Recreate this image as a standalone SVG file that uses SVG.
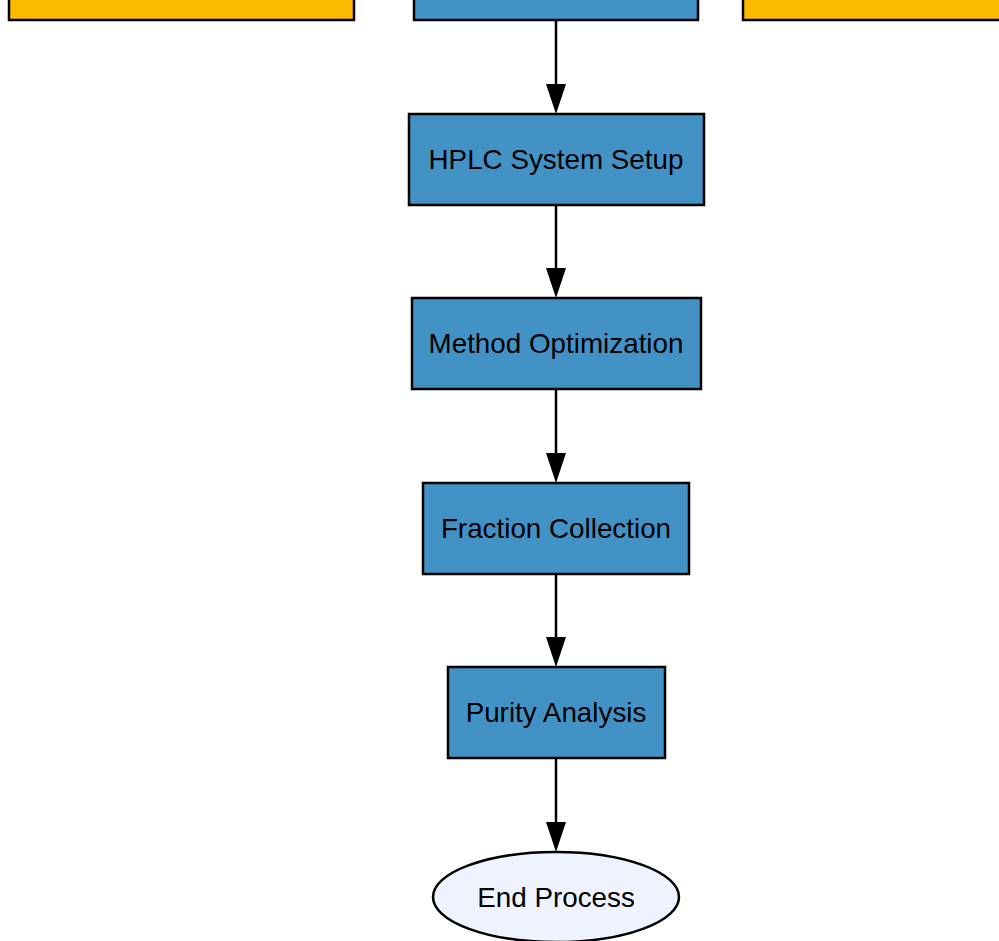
<svg xmlns="http://www.w3.org/2000/svg" width="999" height="941" viewBox="0 0 999 941">
<defs>
<style>
.box{fill:#4292c6;stroke:#000;stroke-width:2.5}
.top{fill:#fbba00;stroke:#000;stroke-width:2.5}
.end{fill:#eef3ff;stroke:#000;stroke-width:2.5}
.lbl{font-family:"Liberation Sans",Arial,sans-serif;font-size:27.8px;fill:#000;text-anchor:middle}
.edge{stroke:#000;stroke-width:2.5;fill:none}
</style>
</defs>
<rect width="999" height="941" fill="#fff"/>
<g id="top-left"><rect class="top" x="9" y="-20" width="345" height="40"/></g>
<g id="top-center"><rect class="box" x="414" y="-20" width="284" height="40"/></g>
<g id="top-right"><rect class="top" x="743" y="-20" width="270" height="40"/></g>
<g id="connectors">
<line class="edge" x1="556" y1="20" x2="556" y2="84"/>
<path d="M546,84 L566,84 L556,114 Z"/>
<line class="edge" x1="556" y1="205" x2="556" y2="268"/>
<path d="M546,268 L566,268 L556,298 Z"/>
<line class="edge" x1="556" y1="389" x2="556" y2="453"/>
<path d="M546,453 L566,453 L556,483 Z"/>
<line class="edge" x1="556" y1="574" x2="556" y2="637"/>
<path d="M546,637 L566,637 L556,667 Z"/>
<line class="edge" x1="556" y1="758" x2="556" y2="822"/>
<path d="M546,822 L566,822 L556,852 Z"/>
</g>
<g id="hplc-setup"><rect class="box" x="409" y="114" width="295" height="91"/><text class="lbl" x="556" y="169">HPLC System Setup</text></g>
<g id="method-optimization"><rect class="box" x="412" y="298" width="289" height="91"/><text class="lbl" x="556" y="353">Method Optimization</text></g>
<g id="fraction-collection"><rect class="box" x="423" y="483" width="266" height="91"/><text class="lbl" x="556" y="538">Fraction Collection</text></g>
<g id="purity-analysis"><rect class="box" x="448" y="667" width="217" height="91"/><text class="lbl" x="556" y="722">Purity Analysis</text></g>
<g id="end-process"><ellipse class="end" cx="556" cy="897" rx="123" ry="45"/><text class="lbl" x="556" y="906.5">End Process</text></g>
</svg>
